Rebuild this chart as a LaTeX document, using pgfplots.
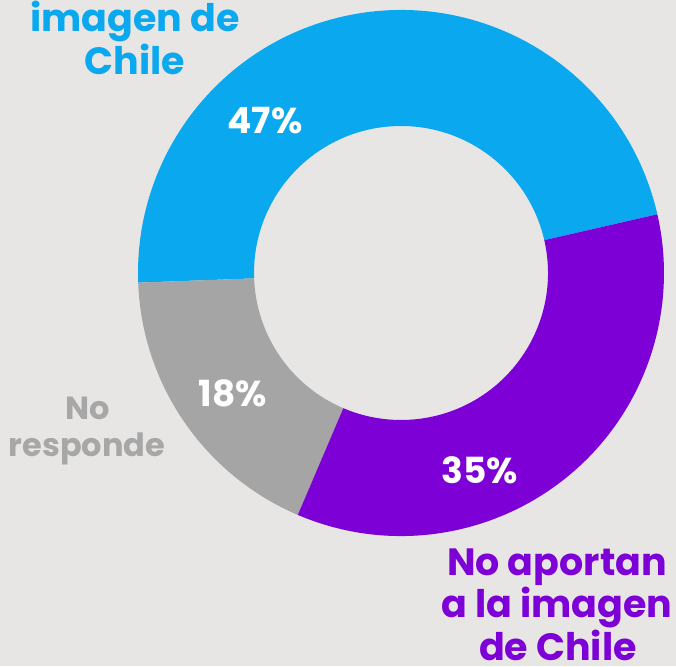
\documentclass[border=0pt]{standalone}
\usepackage{fontspec}
\setmainfont{Poppins}[BoldFont={Poppins Bold}]
\usepackage{pgfplots}
\usepackage{pgfplotstable}
\pgfplotsset{compat=1.18}

\definecolor{bg}{HTML}{E8E6E5}
\definecolor{cblue}{HTML}{0AA8EE}
\definecolor{cpurple}{HTML}{7D00D6}
\definecolor{cgray}{HTML}{A5A5A5}
\definecolor{cgraytext}{HTML}{A7A7A7}

% slices, counter-clockwise from the blue/purple boundary
\pgfplotstableread{
slice value color
aportan 47 cblue
noresponde 18 cgray
noaportan 35 cpurple
}\slices

\begin{document}
\begin{tikzpicture}[
  big/.style={font=\bfseries\fontsize{19}{21}\selectfont, anchor=base},
  small/.style={font=\bfseries\fontsize{16}{18}\selectfont, anchor=base, text=cgraytext},
  pct/.style={font=\bfseries\fontsize{18}{20}\selectfont, text=white, anchor=base},
]
\useasboundingbox (0,0) rectangle (338pt,333pt);
\clip (0,0) rectangle (338pt,333pt);
\fill[bg] (0,0) rectangle (338pt,333pt);
\begin{axis}[
  x=0.5pt, y=0.5pt,
  xmin=0, xmax=676, ymin=0, ymax=666,
  hide axis, clip=false,
]
  \xdef\cura{12.9}
  \pgfplotsforeachungrouped \i in {0,1,2}{
    \pgfplotstablegetelem{\i}{value}\of\slices
    \pgfmathsetmacro\curb{\cura+3.6*\pgfplotsretval}
    \pgfplotstablegetelem{\i}{color}\of\slices
    \edef\doslice{\noexpand\fill[\pgfplotsretval] (axis cs:401,393)
      ++(\cura:131.5pt) arc[start angle=\cura, end angle=\curb, radius=131.5pt]
      -- ++(\curb:-58pt) arc[start angle=\curb, end angle=\cura, radius=73.5pt] -- cycle;}
    \doslice
    \xdef\cura{\curb}
  }

  \node[pct] at (axis cs:265,532) {47\%};
  \node[pct] at (axis cs:233,260) {18\%};
  \node[pct] at (axis cs:480,183) {35\%};

  \node[big, text=cblue] at (axis cs:135,677) {Aportan a la};
  \node[big, text=cblue] at (axis cs:135,634) {imagen de};
  \node[big, text=cblue] at (axis cs:135,591) {Chile};

  \node[big, text=cpurple] at (axis cs:557,91) {No aportan};
  \node[big, text=cpurple] at (axis cs:557,49) {a la imagen};
  \node[big, text=cpurple] at (axis cs:558,6) {de Chile};

  \node[small] at (axis cs:88,247) {No};
  \node[small] at (axis cs:87,210) {responde};
\end{axis}
\end{tikzpicture}
\end{document}
